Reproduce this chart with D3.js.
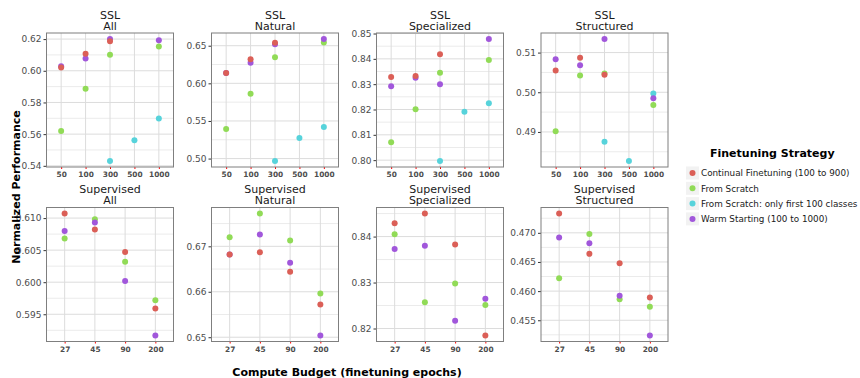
<!DOCTYPE html>
<html>
  <head>
    <title>Finetuning strategies</title>
    <script src="https://d3js.org/d3.v7.min.js"></script>
    <style>
      body { margin: 0; background: white; }
      text { font-family: "DejaVu Sans", sans-serif; }
    </style>
  </head>
  <body>
  </body>
</html>

<script>
  // categories
  var strategies = ["Continual Finetuning (100 to 900)", "From Scratch",
                    "From Scratch: only first 100 classes", "Warm Starting (100 to 1000)"];
  var colors = ["#db5f57", "#91db57", "#57d3db", "#a157db"];
  var sslBudgets = ["50", "100", "300", "500", "1000"];
  var supBudgets = ["27", "45", "90", "200"];

  // values: one row per strategy (continual, scratch, scratch-100, warm), null = missing
  var sslAll = [
    [0.6021, 0.6108, 0.6187, null, null],
    [0.5620, 0.5887, 0.6101, null, 0.6154],
    [null, null, 0.5431, 0.5561, 0.5698],
    [0.6028, 0.6078, 0.6200, null, 0.6192]
  ];
  var sslNatural = [
    [0.6137, 0.6319, 0.6540, null, null],
    [0.5394, 0.5863, 0.6345, null, 0.6544],
    [null, null, 0.4969, 0.5274, 0.5420],
    [0.6137, 0.6274, 0.6518, null, 0.6588]
  ];
  var sslSpecialized = [
    [0.8328, 0.8332, 0.8418, null, null],
    [0.8071, 0.8201, 0.8345, null, 0.8395],
    [null, null, 0.7997, 0.8191, 0.8225],
    [0.8292, 0.8325, 0.8300, null, 0.8478]
  ];
  var sslStructured = [
    [0.5055, 0.5087, 0.5044, null, null],
    [0.4902, 0.5042, 0.5047, null, 0.4968],
    [null, null, 0.4875, 0.4827, 0.4997],
    [0.5083, 0.5068, 0.5134, null, 0.4985]
  ];
  var supAll = [
    [0.6107, 0.6082, 0.6047, 0.5959],
    [0.6068, 0.6098, 0.6032, 0.5972],
    [null, null, null, null],
    [0.6080, 0.6093, 0.6002, 0.5917]
  ];
  var supNatural = [
    [0.6682, 0.6687, 0.6644, 0.6572],
    [0.6720, 0.6772, 0.6713, 0.6596],
    [null, null, null, null],
    [0.6682, 0.6726, 0.6664, 0.6504]
  ];
  var supSpecialized = [
    [0.8429, 0.8450, 0.8383, 0.8185],
    [0.8405, 0.8257, 0.8298, 0.8251],
    [null, null, null, null],
    [0.8373, 0.8380, 0.8217, 0.8265]
  ];
  var supStructured = [
    [0.4733, 0.4664, 0.4648, 0.4589],
    [0.4622, 0.4698, 0.4586, 0.4573],
    [null, null, null, null],
    [0.4692, 0.4682, 0.4592, 0.4524]
  ];

  // tick labels
  var ticksSslAll = ["0.54", "0.56", "0.58", "0.60", "0.62"];
  var ticksSslNatural = ["0.50", "0.55", "0.60", "0.65"];
  var ticksSslSpecialized = ["0.80", "0.81", "0.82", "0.83", "0.84", "0.85"];
  var ticksSslStructured = ["0.49", "0.50", "0.51"];
  var ticksSupAll = ["0.595", "0.600", "0.605", "0.610"];
  var ticksSupNatural = ["0.65", "0.66", "0.67"];
  var ticksSupSpecialized = ["0.82", "0.83", "0.84"];
  var ticksSupStructured = ["0.455", "0.460", "0.465", "0.470"];

  var panels = [
    {title: ["SSL", "All"], cats: sslBudgets, vals: sslAll, ticks: ticksSslAll},
    {title: ["SSL", "Natural"], cats: sslBudgets, vals: sslNatural, ticks: ticksSslNatural},
    {title: ["SSL", "Specialized"], cats: sslBudgets, vals: sslSpecialized, ticks: ticksSslSpecialized},
    {title: ["SSL", "Structured"], cats: sslBudgets, vals: sslStructured, ticks: ticksSslStructured},
    {title: ["Supervised", "All"], cats: supBudgets, vals: supAll, ticks: ticksSupAll},
    {title: ["Supervised", "Natural"], cats: supBudgets, vals: supNatural, ticks: ticksSupNatural},
    {title: ["Supervised", "Specialized"], cats: supBudgets, vals: supSpecialized, ticks: ticksSupSpecialized},
    {title: ["Supervised", "Structured"], cats: supBudgets, vals: supStructured, ticks: ticksSupStructured}
  ];

  var drawOrder = [1, 2, 3, 0]; // red points end up on top

  var svg = d3.select("body").append("svg")
              .attr("width", 860)
              .attr("height", 378);

  var panelW = 127, panelH = 134;
  var lefts = [46.5, 211.5, 376.5, 541];
  var tops = [33, 207.5];

  panels.forEach(function(p, i) {
    var x0 = lefts[i % 4], y0 = tops[Math.floor(i / 4)];
    var g = svg.append("g").attr("transform", "translate(" + x0 + "," + y0 + ")");

    var n = p.cats.length;
    var unit = panelW / (n - 1 + 1.2);
    var x = d3.scalePoint().domain(p.cats).range([0.6 * unit, panelW - 0.6 * unit]);

    var all = [];
    p.vals.forEach(function(r) { r.forEach(function(v) { if (v != null) all.push(v); }); });
    var lo = d3.min(all), hi = d3.max(all), pad = (hi - lo) * 0.05;
    var y = d3.scaleLinear().domain([lo - pad, hi + pad]).range([panelH, 0]);

    var tickVals = p.ticks.map(Number);
    var step = tickVals[1] - tickVals[0];
    var minor = [];
    for (var k = -1; k < tickVals.length; k++) {
      var m = tickVals[0] + (k + 0.5) * step;
      if (m > y.domain()[0] && m < y.domain()[1]) minor.push(m);
    }

    // grid
    g.selectAll(".minor").data(minor).enter().append("line")
     .attr("x1", 0).attr("x2", panelW)
     .attr("y1", function(d) { return y(d); }).attr("y2", function(d) { return y(d); })
     .attr("stroke", "#ebebeb").attr("stroke-width", 1);
    g.selectAll(".major").data(tickVals).enter().append("line")
     .attr("x1", 0).attr("x2", panelW)
     .attr("y1", function(d) { return y(d); }).attr("y2", function(d) { return y(d); })
     .attr("stroke", "#dcdcdc").attr("stroke-width", 1);
    g.selectAll(".vgrid").data(p.cats).enter().append("line")
     .attr("x1", function(d) { return x(d); }).attr("x2", function(d) { return x(d); })
     .attr("y1", 0).attr("y2", panelH)
     .attr("stroke", "#dcdcdc").attr("stroke-width", 1);

    // y axis
    var yAxis = d3.axisLeft(y).tickValues(tickVals)
                  .tickFormat(function(d, j) { return p.ticks[j]; })
                  .tickSize(3).tickPadding(2);
    var ya = g.append("g").call(yAxis);
    ya.select(".domain").remove();
    ya.selectAll("line").attr("stroke", "#333");
    ya.selectAll("text").attr("fill", "#4d4d4d").style("font-size", "9px")
      .style("font-family", "DejaVu Sans");

    // x axis
    var xAxis = d3.axisBottom(x).tickSize(2).tickPadding(3);
    var xa = g.append("g").attr("transform", "translate(0," + panelH + ")").call(xAxis);
    xa.select(".domain").remove();
    xa.selectAll("line").attr("stroke", "red");
    xa.selectAll("text").attr("fill", "#4d4d4d").style("font-size", "7.4px")
      .style("font-weight", "bold").style("font-family", "DejaVu Sans");

    // points
    drawOrder.forEach(function(s) {
      var pts = p.cats.map(function(c, j) { return {c: c, v: p.vals[s][j]}; })
                      .filter(function(d) { return d.v != null; });
      g.selectAll(".pt" + s).data(pts).enter().append("circle")
       .attr("cx", function(d) { return x(d.c); })
       .attr("cy", function(d) { return y(d.v); })
       .attr("r", 3)
       .attr("fill", colors[s]);
    });

    // border
    g.append("rect").attr("x", 0).attr("y", 0)
     .attr("width", panelW).attr("height", panelH)
     .attr("fill", "none").attr("stroke", "#7f7f7f").attr("stroke-width", 1);

    // two-line strip title
    var t = g.append("text")
     .attr("text-anchor", "middle")
     .style("font-size", "11px").attr("fill", "#1a1a1a");
    t.selectAll("tspan").data(p.title).enter().append("tspan")
     .attr("x", panelW / 2)
     .attr("y", function(d, j) { return -14.5 + j * 11; })
     .text(function(d) { return d; });
  });

  // axis titles
  svg.append("text").attr("x", 347).attr("y", 376)
     .attr("text-anchor", "middle").style("font-size", "11px").style("font-weight", "bold")
     .text("Compute Budget (finetuning epochs)");
  svg.append("text").attr("transform", "translate(19.5,187) rotate(-90)")
     .attr("text-anchor", "middle").style("font-size", "11px").style("font-weight", "bold")
     .text("Normalized Performance");

  // legend
  var legend = svg.append("g").attr("transform", "translate(686,0)");
  legend.append("text").attr("x", 24).attr("y", 157)
        .style("font-size", "11px").style("font-weight", "bold")
        .text("Finetuning Strategy");
  var items = legend.selectAll(".item").data(strategies).enter().append("g")
        .attr("transform", function(d, i) { return "translate(0," + (173 + i * 15.3) + ")"; });
  items.append("rect").attr("x", 0).attr("y", -6.5).attr("width", 13).attr("height", 13)
       .attr("fill", "#f2f2f2");
  items.append("circle").attr("cx", 6.5).attr("cy", 0).attr("r", 3)
       .attr("fill", function(d, i) { return colors[i]; });
  items.append("text").attr("x", 15).attr("y", 3.2)
       .style("font-size", "8.8px").attr("fill", "#1a1a1a")
       .text(function(d) { return d; });
</script>
